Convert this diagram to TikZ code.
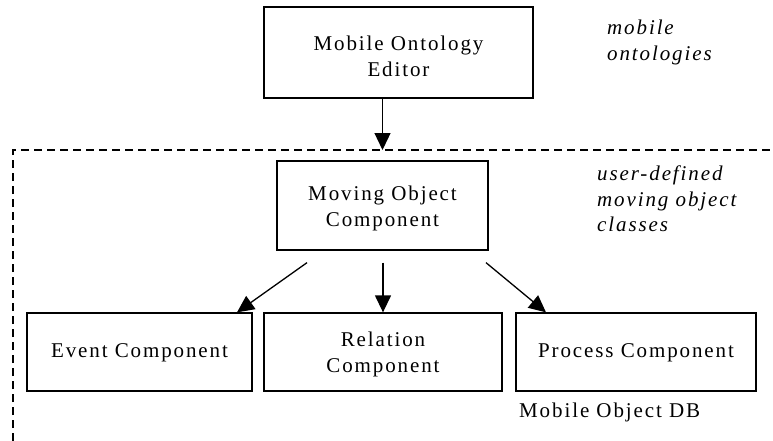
\documentclass[tikz,border=0pt]{standalone}
\usepackage{fontspec}
\setmainfont{Liberation Serif}[LetterSpace=9]
\usetikzlibrary{arrows.meta,calc}
\begin{document}
\begin{tikzpicture}[x=1pt,y=-1pt,
  box/.style={draw, line width=1.3pt, inner sep=0pt},
  txt/.style={align=center, inner sep=0pt, font=\fontsize{21}{26}\selectfont},
  note/.style={anchor=north west, align=left, inner sep=0pt, font=\fontsize{21}{25.5}\selectfont\itshape},
  label/.style={anchor=west, inner sep=0pt, font=\fontsize{21}{25}\selectfont},
  arr/.style={line width=1.3pt, -{Triangle[length=17pt,width=16pt]}},
  region/.style={dash pattern=on 8pt off 5pt, line width=2pt}]
\useasboundingbox[fill=white] (0,0) rectangle (773,441);
\node[box, minimum width=269pt, minimum height=91pt] (ed) at (398.5,52.5) {};
\node[box, minimum width=211pt, minimum height=89pt] (mo) at (382.5,205.5) {};
\node[box, minimum width=225pt, minimum height=78pt] (ev) at (139.5,352) {};
\node[box, minimum width=238pt, minimum height=78pt] (re) at (383,352) {};
\node[box, minimum width=240pt, minimum height=78pt] (pr) at (636,352) {};
\node[txt] (edt) at ($(ed.center)+(0,4)$) {Mobile Ontology\\Editor};
\node[txt] (mot) at ($(mo.center)+(0,3)$) {Moving Object\\Component};
\node[txt] (evt) at ($(ev.center)+(0,1)$) {Event Component};
\node[txt] (ret) at ($(re.center)+(0,2)$) {Relation\\Component};
\node[txt] (prt) at ($(pr.center)+(0,1)$) {Process Component};
\coordinate (c1) at (13,441);
\coordinate (c2) at (13,150);
\coordinate (c3) at (773,150);
\draw[region] (c1) -- (c2) -- (c3);
\draw[arr] (mo.north |- ed.south) -- (mo.north |- c2);
\draw[arr] ($(mo.south)+(-75.5,12)$) -- ($(ev.north)+(97.5,0)$);
\draw[arr] ($(mo.south)+(0.5,12)$) -- (re.north);
\draw[arr] ($(mo.south)+(103.5,12)$) -- ($(pr.north)+(-90,0)$);
\node[note] (n1) at (607,20) {mobile\\ontologies};
\node[note] (n2) at (597,166) {user-defined\\moving object\\classes};
\node[label] (db) at (519,412) {Mobile Object DB};
\end{tikzpicture}
\end{document}
